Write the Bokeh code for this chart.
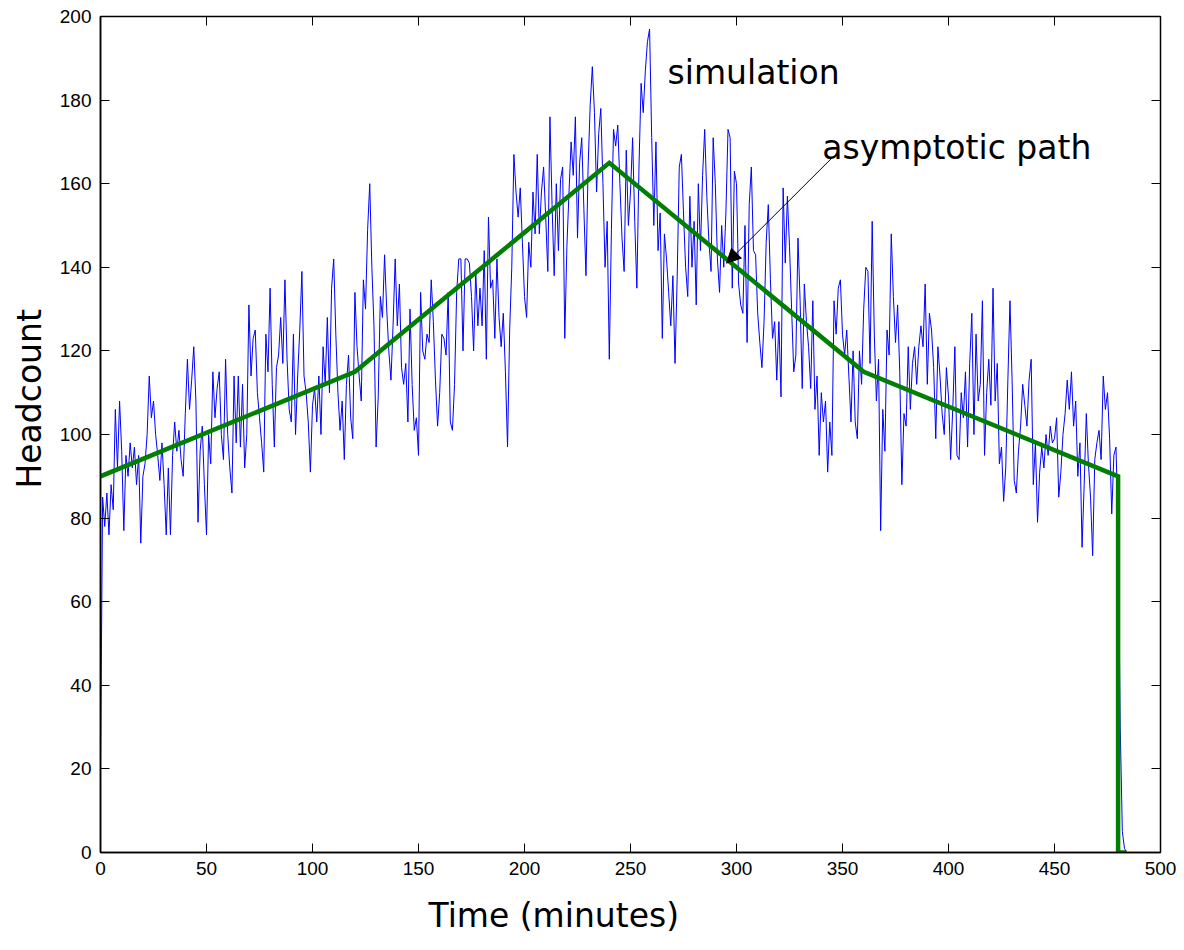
from bokeh.plotting import figure
from bokeh.models import (Range1d, LinearAxis, FixedTicker, Label, Arrow,
                          NormalHead, CustomJSTickFormatter, Title)
from bokeh.embed import file_html
from bokeh.resources import INLINE

# simulated headcount, one reading per minute
sim_count = [
    20, 85, 78, 86, 76, 88, 82, 106, 92, 108,
    96, 77, 95, 90, 98, 92, 97, 88, 95, 74,
    90, 93, 100, 114, 104, 108, 100, 95, 89, 98,
    88, 76, 92, 76, 95, 103, 96, 101, 94, 90,
    105, 118, 106, 113, 121, 108, 79, 96, 102, 88,
    76, 100, 93, 115, 104, 111, 115, 100, 94, 118,
    100, 92, 86, 114, 98, 114, 97, 112, 92, 100,
    131, 114, 123, 125, 110, 104, 98, 91, 124, 115,
    135, 112, 97, 116, 119, 128, 117, 137, 118, 106,
    103, 124, 100, 114, 125, 139, 114, 110, 103, 91,
    107, 111, 103, 114, 100, 121, 112, 128, 110, 135,
    142, 124, 110, 101, 108, 94, 112, 119, 104, 99,
    134, 121, 114, 108, 137, 130, 149, 160, 140, 126,
    97, 109, 133, 128, 143, 130, 120, 113, 126, 142,
    126, 136, 116, 112, 117, 103, 130, 112, 101, 104,
    95, 134, 120, 118, 124, 122, 137, 127, 113, 102,
    110, 124, 123, 119, 134, 103, 101, 112, 134, 142,
    142, 120, 142, 142, 141, 133, 120, 139, 126, 135,
    126, 144, 118, 152, 135, 137, 123, 142, 128, 121,
    129, 115, 97, 125, 140, 167, 158, 152, 159, 146,
    133, 128, 146, 140, 158, 148, 167, 148, 158, 164,
    152, 139, 176, 155, 138, 160, 144, 161, 164, 123,
    145, 158, 170, 162, 176, 147, 165, 171, 154, 138,
    164, 179, 188, 177, 158, 172, 178, 160, 140, 151,
    118, 149, 173, 169, 174, 160, 147, 139, 168, 150,
    158, 171, 151, 135, 164, 184, 177, 187, 194, 197,
    171, 150, 170, 144, 153, 123, 148, 142, 134, 126,
    138, 117, 137, 164, 167, 153, 140, 133, 157, 140,
    151, 131, 160, 144, 162, 173, 157, 146, 139, 171,
    160, 142, 134, 150, 140, 153, 173, 171, 135, 163,
    160, 136, 131, 129, 150, 122, 155, 164, 144, 143,
    129, 122, 116, 127, 146, 155, 137, 123, 127, 113,
    127, 109, 159, 141, 157, 145, 130, 115, 119, 147,
    132, 111, 136, 127, 121, 111, 132, 106, 114, 95,
    110, 103, 108, 91, 103, 95, 132, 124, 135, 137,
    124, 119, 125, 114, 103, 120, 103, 99, 120, 112,
    130, 140, 139, 117, 151, 124, 108, 118, 77, 106,
    96, 125, 119, 148, 133, 122, 131, 115, 88, 105,
    102, 121, 106, 117, 121, 112, 121, 126, 121, 136,
    112, 129, 125, 116, 99, 121, 114, 105, 100, 116,
    109, 94, 106, 121, 95, 94, 110, 104, 115, 97,
    117, 129, 100, 124, 108, 112, 132, 95, 110, 118,
    107, 135, 108, 117, 93, 97, 84, 92, 113, 132,
    113, 89, 86, 96, 102, 112, 107, 102, 113, 118,
    88, 98, 79, 91, 97, 92, 100, 95, 102, 98,
    99, 104, 85, 91, 100, 105, 113, 106, 115, 102,
    108, 90, 98, 73, 88, 105, 93, 85, 71, 94,
    98, 101, 94, 114, 106, 110, 99, 81, 95, 97,
    78, 30, 5, 1, 0, 0,
]
sim_time = list(range(len(sim_count)))  # minutes

# asymptotic (fluid) path
path_time = [0, 120, 240, 360, 480, 480, 484]
path_count = [90, 115, 165, 115, 90, 0, 0]

x_ticks = [0, 50, 100, 150, 200, 250, 300, 350, 400, 450, 500]
y_ticks = [0, 20, 40, 60, 80, 100, 120, 140, 160, 180, 200]

TICK_FONT = "Liberation Sans"
LABEL_FONT = "DejaVu Sans"

p = figure(width=1184, height=950,
           x_range=Range1d(0, 500), y_range=Range1d(0, 200),
           output_backend="svg", toolbar_location=None,
           min_border_left=100, min_border_right=24,
           min_border_top=16, min_border_bottom=98)
p.grid.visible = False
p.background_fill_color = "white"
p.border_fill_color = "white"
p.outline_line_color = "black"
p.outline_line_width = 1.5

p.xaxis.ticker = FixedTicker(ticks=x_ticks)
p.yaxis.ticker = FixedTicker(ticks=y_ticks)
for ax in (p.xaxis[0], p.yaxis[0]):
    ax.major_tick_in = 9
    ax.major_tick_out = 0
    ax.minor_tick_line_color = None
    ax.axis_line_color = "black"
    ax.axis_line_width = 1.5
    ax.major_tick_line_color = "black"
    ax.major_tick_line_width = 1
    ax.major_label_text_font = TICK_FONT
    ax.major_label_text_font_size = "19px"
    ax.major_label_text_color = "black"
    ax.major_label_standoff = 9

blank = CustomJSTickFormatter(code="return ''")
top_ax = LinearAxis(ticker=FixedTicker(ticks=x_ticks), formatter=blank,
                    major_tick_in=9, major_tick_out=0,
                    minor_tick_line_color=None, axis_line_color="black",
                    major_label_standoff=0, major_label_text_font_size="1px")
right_ax = LinearAxis(ticker=FixedTicker(ticks=y_ticks), formatter=blank,
                      major_tick_in=9, major_tick_out=0,
                      minor_tick_line_color=None, axis_line_color="black",
                      major_label_standoff=0, major_label_text_font_size="1px")
p.add_layout(top_ax, "above")
p.add_layout(right_ax, "right")

p.line(sim_time, sim_count, line_color="#0000ff", line_width=1)
p.line(path_time, path_count, line_color="#007f00", line_width=4.5,
       line_join="miter")

p.add_layout(Label(x=267.5, y=182, text="simulation",
                   text_font=LABEL_FONT, text_font_size="33px",
                   text_color="black"))
p.add_layout(Label(x=340.5, y=164, text="asymptotic path",
                   text_font=LABEL_FONT, text_font_size="33px",
                   text_color="black"))
p.add_layout(Arrow(end=NormalHead(size=14, fill_color="black",
                                  line_color="black"),
                   x_start=345.3, y_start=166.3, x_end=295.3, y_end=141,
                   line_color="black", line_width=1))

# axis titles (offset toward the origin, as in the original figure)
p.add_layout(Title(text="Time (minutes)", align="left", offset=328,
                   standoff=32, text_font=LABEL_FONT, text_font_size="33px",
                   text_font_style="normal", text_color="black"), "below")
p.add_layout(Title(text="Headcount", align="left", offset=364,
                   standoff=15, text_font=LABEL_FONT, text_font_size="33px",
                   text_font_style="normal", text_color="black"), "left")

open("out.html", "w").write(file_html(p, INLINE))
